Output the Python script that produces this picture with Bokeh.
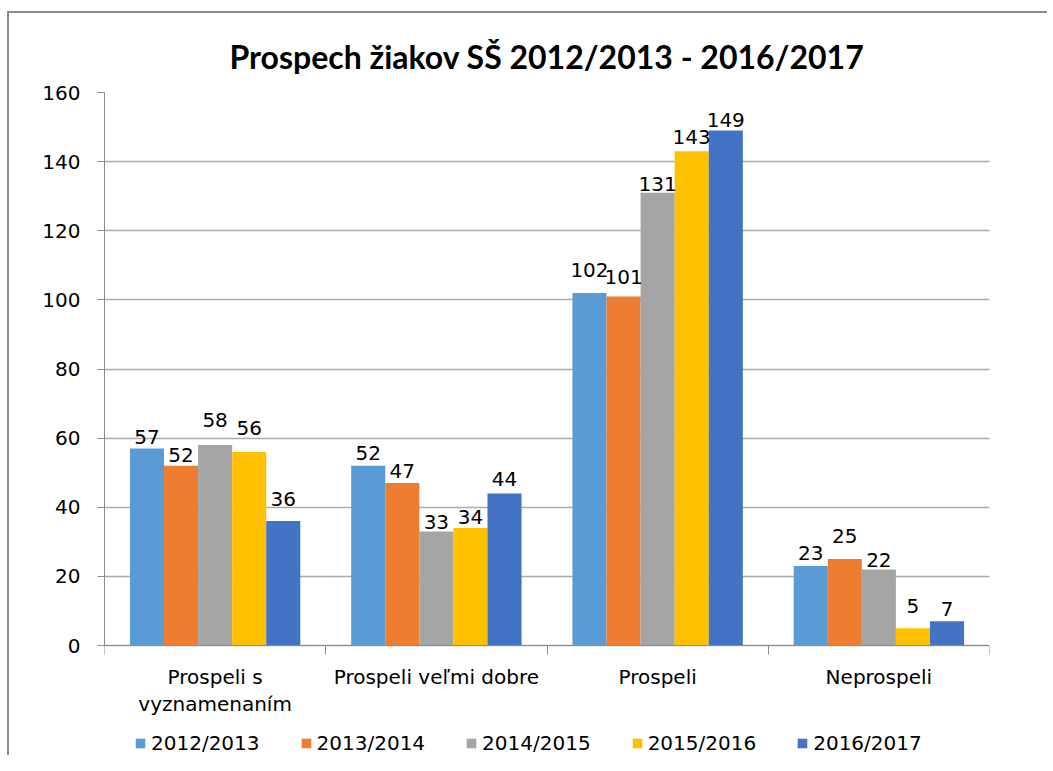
import numpy as np
from bokeh.plotting import figure
from bokeh.models import (ColumnDataSource, LinearAxis, FixedTicker, Legend, LegendItem,
                          LabelSet, Range1d, Title, Grid)
from bokeh.core.properties import value
from bokeh.embed import file_html
from bokeh.resources import INLINE

categories = ["Prospeli s\nvyznamenaním", "Prospeli veľmi dobre", "Prospeli", "Neprospeli"]
series_names = ["2012/2013", "2013/2014", "2014/2015", "2015/2016", "2016/2017"]
v_2012 = [57, 52, 102, 23]
v_2013 = [52, 47, 101, 25]
v_2014 = [58, 33, 131, 22]
v_2015 = [56, 34, 143, 5]
v_2016 = [36, 44, 149, 7]
series_values = [v_2012, v_2013, v_2014, v_2015, v_2016]
colors = ["#5B9BD5", "#ED7D31", "#A5A5A5", "#FFC000", "#4472C4"]
y_ticks = [0, 20, 40, 60, 80, 100, 120, 140, 160]
Y_MAX = 160

# styling: pixel gap between each data label's baseline and its bar top (as nudged in the original)
label_gap_px = [[4, 6, 16, 6],
                [4, 5, 12, 16],
                [18, 2, 2, 2],
                [17, 4, 7, 15],
                [15, 7, 4, 5]]

NUM_FONT = "DejaVu Sans"
TXT_FONT = "DejaVu Sans"

PLOT_H = 553          # pixel height of the 0..160 value area
EXTRA = 110           # room under the zero line for category labels and legend
y_min = -EXTRA * Y_MAX / PLOT_H

p = figure(frame_width=885, frame_height=PLOT_H + EXTRA, output_backend="svg",
           toolbar_location=None,
           x_range=Range1d(0, len(categories)), y_range=Range1d(y_min, Y_MAX),
           min_border_left=95, min_border_right=58, min_border_top=79, min_border_bottom=0,
           x_axis_type=None, y_axis_type=None)
p.styles = {"margin-left": "7px", "margin-top": "11px",
            "border-left": "2px solid #8c8c8c", "border-top": "2px solid #8c8c8c"}
p.outline_line_color = None
p.background_fill_color = "white"
p.border_fill_color = "white"

t = Title(text="Prospech žiakov SŠ 2012/2013 - 2016/2017", align="center",
          text_font="Lato", text_font_size="32px", text_font_style="bold",
          text_color="#000000", standoff=34, offset=-9)
p.add_layout(t, "above")

# y axis
yaxis = LinearAxis(ticker=FixedTicker(ticks=y_ticks), bounds=(0, Y_MAX))
yaxis.axis_line_color = "#8c8c8c"
yaxis.major_tick_line_color = "#8c8c8c"
yaxis.major_tick_out = 7
yaxis.major_tick_in = 0
yaxis.minor_tick_line_color = None
yaxis.major_label_text_font = NUM_FONT
yaxis.major_label_text_font_size = "20px"
yaxis.major_label_text_color = "#000000"
yaxis.major_label_standoff = 17
p.add_layout(yaxis, "left")

# x axis at zero: boundary ticks
xaxis = LinearAxis(ticker=FixedTicker(ticks=list(range(len(categories) + 1))), fixed_location=0)
xaxis.axis_line_color = "#8c8c8c"
xaxis.major_tick_line_color = "#8c8c8c"
xaxis.major_tick_out = 9
xaxis.major_tick_in = 0
xaxis.minor_tick_line_color = None
xaxis.major_label_text_font_size = "0px"
xaxis.major_label_text_color = None
xaxis.major_label_standoff = 0
p.add_layout(xaxis, "below")

p.xgrid.grid_line_color = None
p.ygrid.grid_line_color = None
g = Grid(dimension=1, ticker=yaxis.ticker, grid_line_color="#ababab", grid_line_width=1.3)
p.add_layout(g)

centers = [i + 0.5 for i in range(len(categories))]
# category labels under the zero line
p.text(x=centers, y=[0] * len(categories), text=categories, text_align="center",
       text_baseline="top", y_offset=19, text_font=value(TXT_FONT),
       text_font_size=value("20px"), text_color="#000000", text_line_height=1.15)

bar_w = 0.154
n = len(series_names)
items = []
for k, (name, vals, col) in enumerate(zip(series_names, series_values, colors)):
    xs = [c + (k - (n - 1) / 2) * bar_w for c in centers]
    src = ColumnDataSource(dict(x=xs, top=vals, lab=[str(v) for v in vals],
                                gap=label_gap_px[k]))
    r = p.vbar(x="x", top="top", width=bar_w, bottom=0, source=src, fill_color=col,
               line_color=col, line_width=0)
    items.append(LegendItem(label=name, renderers=[r]))
    ls = LabelSet(x="x", y="top", text="lab", source=src, text_align="center",
                  text_baseline="alphabetic", y_offset="gap", text_font=value(NUM_FONT),
                  text_font_size=value("20px"), text_color="#000000")
    p.add_layout(ls)

legend = Legend(items=items, orientation="horizontal", location=(30, 0),
                glyph_width=12, glyph_height=12, label_standoff=5, spacing=40,
                label_text_font=TXT_FONT, label_text_font_size="20px",
                label_text_color="#000000", border_line_color=None,
                background_fill_alpha=0, padding=0, margin=0)
p.add_layout(legend)

open("out.html", "w").write(file_html(p, INLINE))
